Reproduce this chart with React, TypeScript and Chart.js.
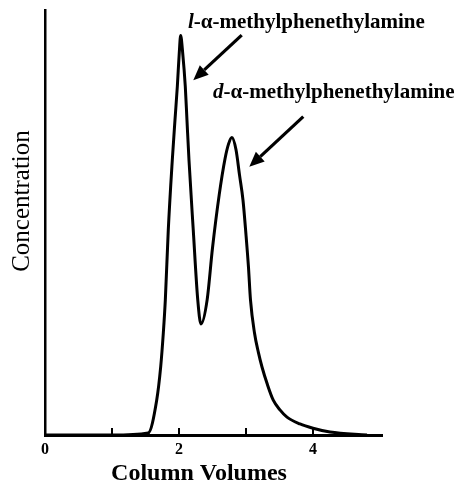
import React, { useEffect, useRef } from "react";
import { Chart, registerables } from "chart.js";

Chart.register(...registerables);

// Column volumes (x) and concentration (y, relative units)
const volumes = [0, 1.0, 1.54, 1.667, 1.727, 1.766, 1.796, 1.84, 1.9, 1.94, 1.975, 2.004, 2.025, 2.055, 2.094, 2.119, 2.149, 2.213, 2.28, 2.328, 2.42, 2.5, 2.6, 2.687, 2.74, 2.79, 2.851, 2.903, 2.955, 3.0, 3.037, 3.067, 3.127, 3.184, 3.239, 3.321, 3.407, 3.507, 3.612, 3.806, 4.0, 4.254, 4.806];
const concentration = [0, 0, 0.5, 8.2, 16.1, 24, 31.8, 48.2, 64.7, 74.1, 82, 89.9, 94, 89.9, 82, 74.1, 64.7, 48.2, 31.8, 26.1, 31.8, 44, 56.5, 65, 68.5, 70, 67.1, 61.2, 55.3, 47.1, 39.5, 31.8, 24, 19.5, 16, 11.8, 8.2, 5.9, 4.2, 2.6, 1.6, 0.7, 0];

const xTickValues = [0, 1, 2, 3, 4];
const xTickLabels = ["0", "", "2", "", "4"];

const xLabel = "Column Volumes";
const yLabel = "Concentration";

// annotations: italic prefix, rest of name, label anchor (data), arrow tail & head (data)
const annPrefix = ["l", "d"];
const annRest = ["-\u03b1-methylphenethylamine", "-\u03b1-methylphenethylamine"];
const annLabelX = [2.134, 2.507];
const annLabelY = [95.8, 79.3];
const annTailX = [2.936, 3.855];
const annTailY = [94.1, 74.9];
const annHeadX = [2.213, 3.049];
const annHeadY = [83.5, 63.1];

const FONT = "'Liberation Serif', 'Times New Roman', serif";

const overlayPlugin = {
  id: "overlay",
  afterDraw(chart: any) {
    const ctx = chart.ctx;
    const xs = chart.scales.x;
    const ys = chart.scales.y;
    const area = chart.chartArea;
    ctx.save();
    ctx.strokeStyle = "#000";
    ctx.fillStyle = "#000";
    // inward tick marks
    ctx.lineWidth = 2;
    xTickValues.forEach((v) => {
      if (v === 0) return;
      const px = xs.getPixelForValue(v);
      ctx.beginPath();
      ctx.moveTo(px, area.bottom);
      ctx.lineTo(px, area.bottom - 7);
      ctx.stroke();
    });
    // arrows and labels
    for (let i = 0; i < annPrefix.length; i++) {
      const tx = xs.getPixelForValue(annTailX[i]);
      const ty = ys.getPixelForValue(annTailY[i]);
      const hx = xs.getPixelForValue(annHeadX[i]);
      const hy = ys.getPixelForValue(annHeadY[i]);
      const ang = Math.atan2(hy - ty, hx - tx);
      const headLen = 15;
      const headW = 6.5;
      const bx = hx - headLen * Math.cos(ang);
      const by = hy - headLen * Math.sin(ang);
      ctx.lineWidth = 3.2;
      ctx.beginPath();
      ctx.moveTo(tx, ty);
      ctx.lineTo(bx, by);
      ctx.stroke();
      ctx.beginPath();
      ctx.moveTo(hx, hy);
      ctx.lineTo(bx + headW * Math.sin(ang), by - headW * Math.cos(ang));
      ctx.lineTo(bx - headW * Math.sin(ang), by + headW * Math.cos(ang));
      ctx.closePath();
      ctx.fill();

      const lx = xs.getPixelForValue(annLabelX[i]);
      const ly = ys.getPixelForValue(annLabelY[i]);
      ctx.textBaseline = "alphabetic";
      ctx.textAlign = "left";
      ctx.font = `italic bold 21px ${FONT}`;
      ctx.fillText(annPrefix[i], lx, ly);
      const w = ctx.measureText(annPrefix[i]).width;
      ctx.font = `bold 21px ${FONT}`;
      ctx.fillText(annRest[i], lx + w, ly);
    }
    // axis titles
    ctx.textAlign = "center";
    ctx.textBaseline = "middle";
    ctx.font = `bold 24px ${FONT}`;
    ctx.fillText(xLabel, 199, 474);
    ctx.save();
    ctx.translate(22, 201);
    ctx.rotate(-Math.PI / 2);
    ctx.font = `25px ${FONT}`;
    ctx.fillText(yLabel, 0, 0);
    ctx.restore();
    ctx.restore();
  },
};

export default function App() {
  const ref = useRef<HTMLCanvasElement>(null);
  useEffect(() => {
    if (!ref.current) return;
    const points = volumes.map((v, i) => ({ x: v, y: concentration[i] }));
    const chart = new Chart(ref.current, {
      type: "line",
      data: {
        datasets: [
          {
            data: points,
            borderColor: "#000",
            borderWidth: 3,
            pointRadius: 0,
            fill: false,
            cubicInterpolationMode: "monotone",
            clip: false as any,
          },
        ],
      },
      options: {
        animation: false,
        responsive: false,
        events: [],
        layout: { padding: { top: 10, right: 79, left: 0, bottom: 0 } },
        plugins: { legend: { display: false }, tooltip: { enabled: false }, title: { display: false } },
        scales: {
          x: {
            type: "linear",
            min: 0,
            max: 5.03,
            afterFit: (s: any) => {
              s.height = 50;
            },
            afterBuildTicks: (s: any) => {
              s.ticks = xTickValues.map((v) => ({ value: v }));
            },
            ticks: {
              autoSkip: false,
              maxRotation: 0,
              padding: 5,
              color: "#000",
              font: { family: FONT, size: 16, weight: "bold" },
              callback: (v: any) => {
                const idx = xTickValues.indexOf(Number(v));
                return idx >= 0 ? xTickLabels[idx] : "";
              },
            },
            grid: { display: false, drawTicks: false },
            border: { display: true, color: "#000", width: 3 },
          },
          y: {
            min: 0,
            max: 100,
            afterFit: (s: any) => {
              s.width = 45;
            },
            ticks: { display: false },
            grid: { display: false, drawTicks: false },
            border: { display: true, color: "#000", width: 2.5 },
          },
        },
      },
      plugins: [overlayPlugin],
    });
    return () => chart.destroy();
  }, []);
  return (
    <div style={{ position: "fixed", left: 0, top: 0, width: 461, height: 485, background: "#fff" }}>
      <canvas ref={ref} width={461} height={485} style={{ display: "block" }} />
    </div>
  );
}
